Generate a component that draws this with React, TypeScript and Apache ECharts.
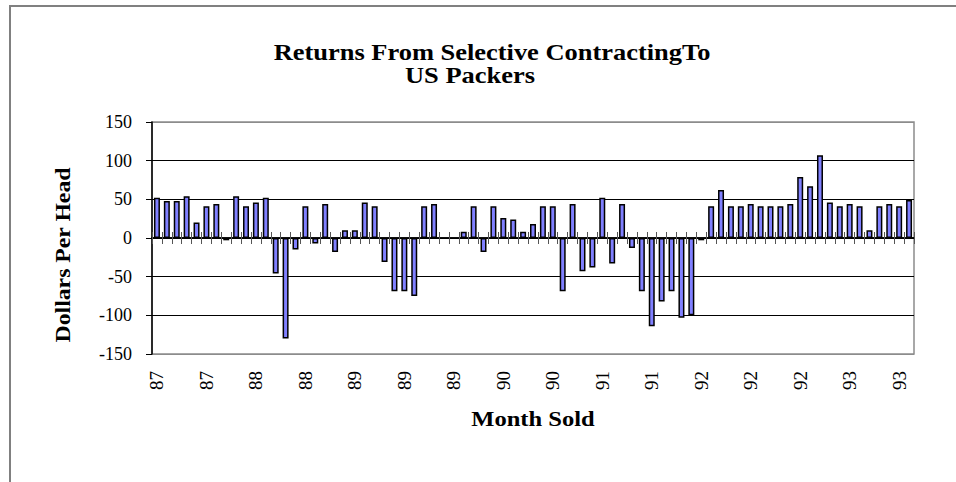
import React, { useEffect, useRef } from "react";
import * as echarts from "echarts";

const MONTHS: string[] = [
  "Jun 87", "Jul 87", "Aug 87", "Sep 87", "Oct 87", "Nov 87", "Dec 87",
  "Jan 88", "Feb 88", "Mar 88", "Apr 88", "May 88", "Jun 88", "Jul 88", "Aug 88", "Sep 88", "Oct 88", "Nov 88", "Dec 88",
  "Jan 89", "Feb 89", "Mar 89", "Apr 89", "May 89", "Jun 89", "Jul 89", "Aug 89", "Sep 89", "Oct 89", "Nov 89", "Dec 89",
  "Jan 90", "Feb 90", "Mar 90", "Apr 90", "May 90", "Jun 90", "Jul 90", "Aug 90", "Sep 90", "Oct 90", "Nov 90", "Dec 90",
  "Jan 91", "Feb 91", "Mar 91", "Apr 91", "May 91", "Jun 91", "Jul 91", "Aug 91", "Sep 91", "Oct 91", "Nov 91", "Dec 91",
  "Jan 92", "Feb 92", "Mar 92", "Apr 92", "May 92", "Jun 92", "Jul 92", "Aug 92", "Sep 92", "Oct 92", "Nov 92", "Dec 92",
  "Jan 93", "Feb 93", "Mar 93", "Apr 93", "May 93", "Jun 93", "Jul 93", "Aug 93", "Sep 93", "Oct 93",
];

const RETURNS: (number | null)[] = [
  52, 48, 48, 54, 20, 41, 44, -3, 54, 41,
  46, 52, -46, -130, -15, 41, -7, 44, -18, 10,
  10, 46, 41, -31, -69, -69, -75, 41, 44, null,
  null, 8, 41, -18, 41, 26, 24, 8, 18, 41,
  41, -69, 44, -43, -38, 52, -33, 44, -13, -69,
  -114, -82, -69, -103, -100, -3, 41, 62, 41, 41,
  44, 41, 41, 41, 44, 79, 67, 107, 46, 41,
  44, 41, 10, 41, 44, 41, 49,
];

const Y_TICKS: number[] = [-150, -100, -50, 0, 50, 100, 150];

const TITLE_LINE_1 = "Returns From Selective ContractingTo";
const TITLE_LINE_2 = "US Packers";
const X_TITLE = "Month Sold";
const Y_TITLE = "Dollars Per Head";

const SERIF = "'Liberation Serif', 'Times New Roman', serif";

export default function App() {
  const ref = useRef<HTMLDivElement>(null);

  useEffect(() => {
    if (!ref.current) return;
    const chart = echarts.init(ref.current, undefined, { renderer: "svg" });
    const yMin = Y_TICKS[0];
    const yMax = Y_TICKS[Y_TICKS.length - 1];
    const yStep = Y_TICKS[1] - Y_TICKS[0];
    const splitColors = Y_TICKS.map((v) => (v === yMin || v === yMax ? "#8c8c8c" : "#000000"));

    const tickAxisBase = {
      type: "category",
      data: MONTHS,
      position: "bottom",
      boundaryGap: true,
      axisLabel: { show: false },
      splitLine: { show: false },
    };

    chart.setOption({
      animation: false,
      backgroundColor: "#ffffff",
      grid: {
        left: 152,
        right: 42,
        top: 122,
        bottom: 128,
        show: true,
        borderColor: "#8c8c8c",
        borderWidth: 1.5,
        backgroundColor: "transparent",
      },
      graphic: [
        {
          type: "rect",
          shape: { x: 10, y: 6, width: 1200, height: 1000 },
          style: { fill: "none", stroke: "#808080", lineWidth: 2 },
          silent: true,
        },
        {
          type: "text",
          x: 492,
          y: 52,
          scaleX: 1.15,
          style: {
            text: TITLE_LINE_1,
            font: `bold 23px ${SERIF}`,
            fill: "#000",
            textAlign: "center",
            textVerticalAlign: "middle",
          },
        },
        {
          type: "text",
          x: 470,
          y: 75,
          scaleX: 1.15,
          style: {
            text: TITLE_LINE_2,
            font: `bold 23px ${SERIF}`,
            fill: "#000",
            textAlign: "center",
            textVerticalAlign: "middle",
          },
        },
        {
          type: "text",
          x: 533,
          y: 419.5,
          scaleX: 1.17,
          style: {
            text: X_TITLE,
            font: `bold 21px ${SERIF}`,
            fill: "#000",
            textAlign: "center",
            textVerticalAlign: "middle",
          },
        },
        {
          type: "text",
          x: 63,
          y: 255,
          rotation: Math.PI / 2,
          scaleX: 1.08,
          style: {
            text: Y_TITLE,
            font: `bold 22px ${SERIF}`,
            fill: "#000",
            textAlign: "center",
            textVerticalAlign: "middle",
          },
        },
      ],
      xAxis: [
        {
          ...tickAxisBase,
          axisLine: {
            show: true,
            onZero: true,
            onZeroAxisIndex: 0,
            lineStyle: { color: "#000", width: 1.5 },
          },
          axisTick: {
            show: true,
            inside: true,
            length: 6,
            interval: 0,
            lineStyle: { color: "#555", width: 1 },
          },
        },
        {
          ...tickAxisBase,
          axisLine: {
            show: true,
            onZero: true,
            onZeroAxisIndex: 0,
            lineStyle: { color: "#000", width: 1.5 },
          },
          axisTick: {
            show: true,
            inside: false,
            length: 6,
            interval: 0,
            lineStyle: { color: "#555", width: 1 },
          },
        },
        {
          type: "category",
          data: MONTHS,
          position: "bottom",
          boundaryGap: true,
          axisLine: { show: false, onZero: false },
          axisTick: { show: false },
          splitLine: { show: false },
          axisLabel: {
            show: true,
            rotate: 90,
            interval: 4,
            margin: 17,
            fontSize: 19,
            fontFamily: SERIF,
            color: "#000",
            formatter: (v: string) => v.slice(-2),
          },
        },
      ],
      yAxis: {
        type: "value",
        min: yMin,
        max: yMax,
        interval: yStep,
        axisLine: { show: true, onZero: false, lineStyle: { color: "#000", width: 1.5 } },
        axisTick: { show: true, inside: false, length: 6, lineStyle: { color: "#000", width: 1 } },
        axisLabel: {
          margin: 20,
          fontSize: 18,
          fontFamily: SERIF,
          color: "#000",
        },
        splitLine: { show: true, lineStyle: { color: splitColors, width: 1 } },
      },
      series: [
        {
          type: "bar",
          name: "Returns",
          xAxisIndex: 0,
          yAxisIndex: 0,
          data: RETURNS,
          barWidth: 6,
          itemStyle: {
            color: "#8080ff",
            borderColor: "#000",
            borderWidth: 1.5,
          },
        },
      ],
    });
    return () => chart.dispose();
  }, []);

  return (
    <div
      ref={ref}
      style={{ position: "fixed", left: 0, top: 0, width: 956, height: 482, background: "#fff" }}
    />
  );
}
